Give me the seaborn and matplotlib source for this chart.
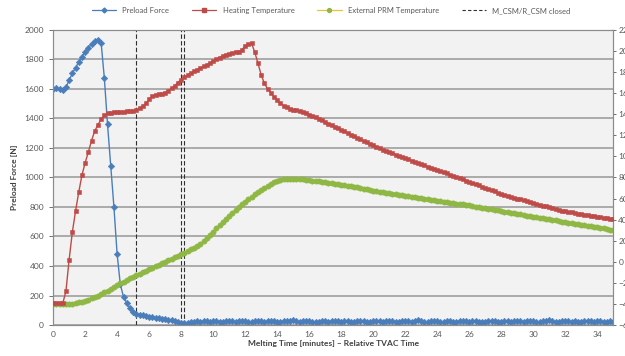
import numpy as np
import pandas as pd
import matplotlib
matplotlib.use("Agg")
import matplotlib.pyplot as plt
from matplotlib.lines import Line2D
import seaborn as sns

# -----------------------------
# Data (one sample every 0.2 min, 0 .. 35 min)
# -----------------------------
STEP_MIN = 0.2

preload_force = [
    1600, 1605, 1600, 1596, 1612, 1658, 1705, 1745, 1782, 1818,
    1850, 1878, 1905, 1924, 1932, 1912, 1675, 1360, 1080, 800,
    480, 275, 190, 150, 115, 90, 76, 70, 66, 61,
    56, 54, 50, 47, 43, 38, 35, 31, 27, 22,
    16, 14, 16, 19, 21, 24, 22, 26, 24, 21,
    25, 28, 23, 20, 24, 27, 25, 22, 26, 29,
    24, 21, 23, 27, 30, 26, 22, 25, 28, 24,
    20, 23, 26, 24, 27, 31, 25, 22, 24, 28,
    26, 21, 19, 23, 27, 25, 22, 26, 29, 24,
    22, 25, 27, 23, 20, 24, 28, 26, 23, 21,
    24, 27, 25, 22, 26, 30, 27, 23, 21, 25,
    28, 24, 22, 26, 32, 27, 23, 20, 24, 27,
    25, 21, 23, 27, 24, 20, 22, 26, 28, 25,
    22, 24, 27, 23, 19, 22, 25, 28, 24, 21,
    23, 26, 24, 21, 25, 29, 26, 22, 24, 27,
    25, 22, 20, 24, 27, 31, 26, 23, 21, 24,
    27, 25, 22, 26, 23, 20, 24, 28, 25, 22,
    24, 27, 23, 21, 25, 23,
]

heating_temp = [
    -39, -39, -39.5, -39.5, -28, 2, 28, 48, 66, 82,
    94, 104, 115, 124, 130, 135, 139, 141, 141.5, 142,
    142, 142.3, 142.5, 142.7, 143, 143, 143.8, 145.5, 147.5, 150.5,
    154, 157, 158.5, 159, 159.3, 160.5, 162.5, 164.5, 167, 170,
    172.8, 175, 177, 179, 180.7, 182.3, 183.8, 185.3, 186.8, 188.5,
    190.2, 192, 193.8, 195.2, 196.5, 197.2, 198.3, 199, 199.4, 201,
    204.8, 206.5, 207.4, 199, 188.5, 177.5, 169.5, 164, 160.5, 156.5,
    153.3, 150.5, 148, 146.5, 145.2, 144.2, 143.6, 143, 142.3, 141,
    139.7, 138.3, 136.9, 135.5, 134.1, 132.7, 131.2, 129.7, 128.2, 126.6,
    125.2, 123.7, 122.2, 120.7, 119.2, 117.7, 116.2, 114.6, 113.2, 111.8,
    110.5, 109.1, 107.7, 106.5, 105.2, 104, 102.8, 101.6, 100.4, 99.2,
    98.3, 97.2, 96, 94.9, 93.8, 92.6, 91.5, 90.4, 89.3, 88.2,
    87.1, 86, 84.9, 83.8, 82.7, 81.6, 80.5, 79.3, 78.2, 77.1,
    76, 74.8, 73.7, 72.5, 71.4, 70.2, 69.1, 67.9, 66.8, 65.6,
    64.5, 63.6, 62.7, 61.8, 60.9, 60, 59.1, 58.2, 57.3, 56.4,
    55.5, 54.7, 54, 53.2, 52.5, 51.7, 51, 50.2, 49.4, 48.6,
    47.9, 47.3, 46.8, 46.3, 45.8, 45.3, 44.8, 44.3, 43.8, 43.3,
    42.8, 42.3, 41.8, 41.4, 41, 40.6,
]

prm_temp = [
    -40, -40, -40, -40, -40, -40, -39.7, -39.3, -38.6, -37.8,
    -37, -35.9, -34.7, -33.4, -32, -30.5, -29, -27.5, -25.8, -24,
    -22.2, -20.5, -18.8, -17.2, -15.7, -14.3, -12.9, -11.5, -10.1, -8.6,
    -7.1, -5.7, -4.3, -2.9, -1.5, -0.1, 1.3, 2.8, 4.2, 5.7,
    7.2, 8.7, 10.2, 11.8, 13.4, 15.0, 17.0, 19.5, 22.5, 25.5,
    28.6, 31.7, 34.8, 37.9, 40.9, 43.8, 46.6, 49.3, 51.9, 54.4,
    56.9, 59.3, 61.7, 64, 66.2, 68.4, 70.4, 72.3, 74.0, 75.5,
    76.8, 77.9, 78.6, 79, 79, 78.9, 78.7, 78.4, 78.1, 77.8,
    77.4, 77.0, 76.6, 76.2, 75.7, 75.3, 74.8, 74.4, 73.9, 73.5,
    73.0, 72.5, 72.0, 71.5, 71.0, 70.5, 70.0, 69.5, 69.0, 68.3,
    67.6, 67.1, 66.6, 66.1, 65.6, 65.2, 64.7, 64.2, 63.7, 63.2,
    62.7, 62.2, 61.7, 61.3, 60.8, 60.3, 59.8, 59.3, 58.8, 58.4,
    57.9, 57.5, 57.1, 56.6, 56.2, 55.7, 55.3, 54.9, 54.4, 54.0,
    53.5, 53, 52.4, 51.9, 51.4, 50.8, 50.3, 49.7, 49.2, 48.7,
    48.1, 47.6, 47.1, 46.5, 46, 45.5, 44.9, 44.4, 43.9, 43.3,
    42.8, 42.3, 41.8, 41.3, 40.8, 40.3, 39.8, 39.2, 38.7, 38.2,
    37.7, 37.2, 36.7, 36.2, 35.7, 35.2, 34.7, 34.1, 33.6, 33.1,
    32.6, 32.1, 31.6, 31.1, 30.6, 30.1,
]

# M_CSM / R_CSM closing events [min]
closed_times = [5.15, 8.0, 8.15]

x_ticks = list(range(0, 35, 2))
force_ticks = list(range(0, 2001, 200))
temp_ticks = list(range(-60, 221, 20))

time_min = np.arange(len(preload_force)) * STEP_MIN
df = pd.DataFrame({
    "time": time_min,
    "force": preload_force,
    "heating": heating_temp,
    "prm": prm_temp,
})

# -----------------------------
# Style
# -----------------------------
BLUE = "#4a7ebb"
RED = "#be4b48"
GREEN = "#8fb744"
YELLOW = "#e3c53a"
TICK_COLOR = "#595959"
SPINE_COLOR = "#8c8c8c"

sns.set_theme(style="white")
plt.rcParams["font.family"] = ["Lato", "DejaVu Sans"]

fig, ax = plt.subplots(figsize=(6.25, 3.56), dpi=100)
fig.subplots_adjust(left=0.085, right=0.981, bottom=0.087, top=0.916)
ax.set_facecolor("#f2f2f2")
ax2 = ax.twinx()

# -----------------------------
# Series
# -----------------------------
sns.lineplot(data=df, x="time", y="force", ax=ax, color=BLUE, lw=1.0,
             marker="D", markersize=3.3, markeredgecolor=BLUE,
             markeredgewidth=0.4, zorder=3)
sns.lineplot(data=df, x="time", y="heating", ax=ax2, color=RED, lw=1.0,
             marker="s", markersize=3.4, markeredgecolor=RED,
             markeredgewidth=0.4, zorder=3)
sns.lineplot(data=df, x="time", y="prm", ax=ax2, color=YELLOW, lw=1.0,
             marker="o", markersize=3.8, markerfacecolor=GREEN,
             markeredgecolor=GREEN, markeredgewidth=0.4, zorder=2)

for t in closed_times:
    ax.axvline(t, color="#303030", lw=0.8, ls=(0, (4, 2)), zorder=2)

# -----------------------------
# Axes
# -----------------------------
ax.set_xlim(0, 35)
ax.set_ylim(0, 2000)
ax2.set_ylim(-60, 220)
ax.set_xticks(x_ticks)
ax.set_yticks(force_ticks)
ax2.set_yticks(temp_ticks)

ax.set_axisbelow(True)
ax.yaxis.grid(True, color="#9e9e9e", lw=1.2)
ax.xaxis.grid(False)
ax2.grid(False)

for a in (ax, ax2):
    for side in ("left", "right", "bottom", "top"):
        a.spines[side].set_color(SPINE_COLOR)
        a.spines[side].set_linewidth(0.8)
    a.tick_params(labelsize=6, colors=TICK_COLOR, length=3, width=0.6)
ax.tick_params(axis="x", length=0, pad=4)
ax2.tick_params(axis="y", length=2.5, pad=1.2)

ax.set_xlabel("Melting Time [minutes] \u2013 Relative TVAC Time",
              fontsize=6, fontweight="bold", color="#404040", labelpad=2)
ax.set_ylabel("Preload Force [N]", fontsize=6, fontweight="bold",
              color="#404040", labelpad=5)
ax2.set_ylabel("")

# -----------------------------
# Legend
# -----------------------------
handles = [
    Line2D([], [], color=BLUE, lw=0.9, marker="D", markersize=2.5),
    Line2D([], [], color=RED, lw=0.9, marker="s", markersize=2.5),
    Line2D([], [], color=YELLOW, lw=0.9, marker="o", markersize=2.8,
           markerfacecolor=GREEN, markeredgecolor=GREEN),
    Line2D([], [], color="#303030", lw=0.8, ls=(0, (3, 2))),
]
labels = ["Preload Force", "Heating Temperature",
          "External PRM Temperature", "M_CSM/R_CSM closed"]
fig.legend(handles, labels, loc="upper center", bbox_to_anchor=(0.53, 1.0),
           ncol=4, frameon=False, fontsize=5.5, handlelength=3.2,
           columnspacing=3.0, labelcolor=TICK_COLOR)

fig.savefig("out.png", dpi=100)
